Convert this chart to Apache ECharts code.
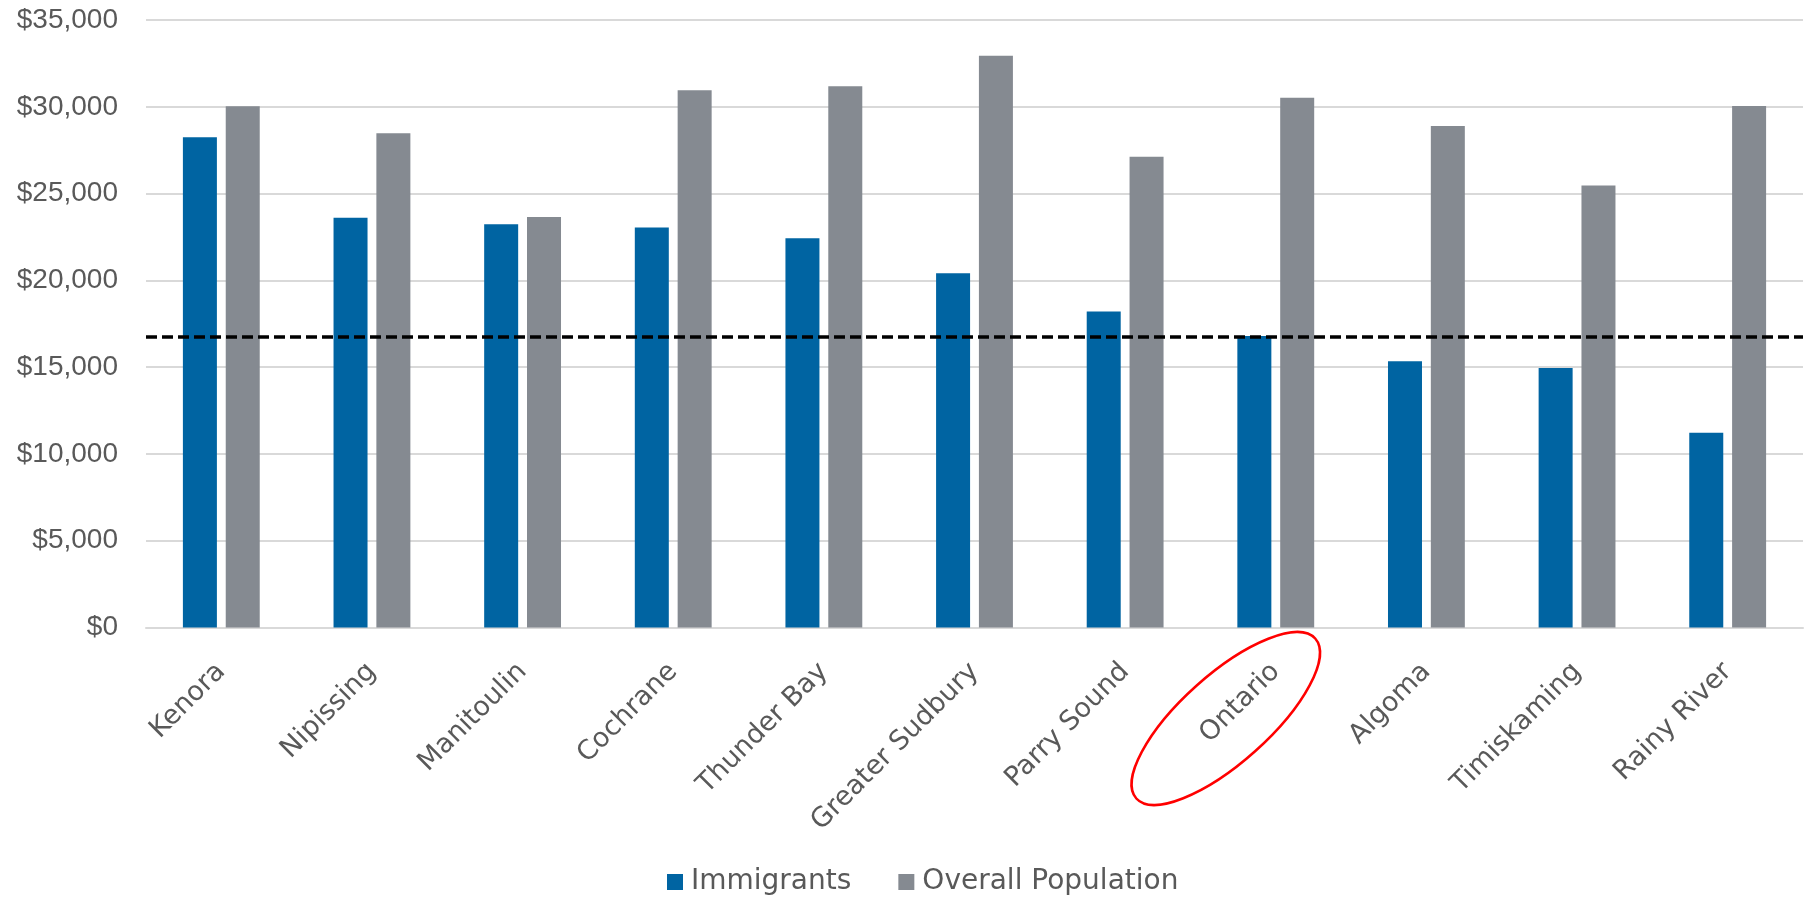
<!DOCTYPE html>
<html>
<head>
<meta charset="utf-8">
<script src="https://cdn.jsdelivr.net/npm/echarts@6/dist/echarts.min.js"></script>
<style>html,body{margin:0;padding:0;background:#fff}#c{width:1809px;height:897px}</style>
</head>
<body>
<div id="c"></div>
<script>
const categories = ['Kenora','Nipissing','Manitoulin','Cochrane','Thunder Bay','Greater Sudbury','Parry Sound','Ontario','Algoma','Timiskaming','Rainy River'];
const immigrants = [28250, 23600, 23230, 23040, 22420, 20410, 18200, 16800, 15340, 14950, 11220];
const overallPopulation = [30030, 28480, 23650, 30950, 31180, 32940, 27120, 30520, 28890, 25460, 30040];
const referenceLine = 16750;
const highlightedCategory = 'Ontario';
const yTicks = { min: 0, max: 35000, interval: 5000 };

const chart = echarts.init(document.getElementById('c'), null, { renderer: 'canvas' });
const textColor = '#595959';
chart.setOption({
  animation: false,
  backgroundColor: '#ffffff',
  grid: { left: 146, right: 6, top: 20, bottom: 269.5, containLabel: false },
  legend: {
    bottom: -4,
    left: 662,
    itemWidth: 16,
    itemHeight: 16,
    itemGap: 47,
    icon: 'rect',
    textStyle: { color: textColor, fontSize: 28, fontFamily: 'DejaVu Sans', padding: [0, 0, 0, 3] },
    data: ['Immigrants', 'Overall Population']
  },
  xAxis: {
    type: 'category',
    data: categories,
    axisLine: { show: true, lineStyle: { color: '#d9d9d9', width: 2 } },
    axisTick: { show: false },
    axisLabel: { rotate: 45, margin: 40, color: textColor, fontSize: 27, fontFamily: 'DejaVu Sans', interval: 0 }
  },
  yAxis: {
    type: 'value',
    min: yTicks.min, max: yTicks.max, interval: yTicks.interval,
    axisLine: { show: false },
    axisTick: { show: false },
    splitLine: { lineStyle: { color: '#d9d9d9', width: 2 } },
    axisLabel: {
      margin: 28, color: textColor, fontSize: 28, fontFamily: 'Liberation Sans',
      formatter: v => '$' + v.toLocaleString('en-US')
    }
  },
  series: [
    {
      name: 'Immigrants', type: 'bar', data: immigrants,
      barWidth: 34, barGap: '26%',
      itemStyle: { color: '#0064A2' },
      markLine: {
        silent: true, symbol: 'none',
        label: { show: false },
        lineStyle: { color: '#000000', width: 3.5, type: [11, 5] },
        data: [{ yAxis: referenceLine }]
      },
      z: 2
    },
    {
      name: 'Overall Population', type: 'bar', data: overallPopulation,
      barWidth: 34,
      itemStyle: { color: '#858A91' },
      z: 2
    }
  ]
});

// Red ellipse annotation around the highlighted category label, anchored to the axis position
const px = chart.convertToPixel({ xAxisIndex: 0 }, highlightedCategory);
const py = chart.convertToPixel({ yAxisIndex: 0 }, 0);
chart.setOption({
  graphic: [{
    type: 'ellipse',
    x: px - 50,
    y: py + 91,
    rotation: 41.8 * Math.PI / 180,
    shape: { cx: 0, cy: 0, rx: 120, ry: 44 },
    style: { fill: 'none', stroke: '#FF0000', lineWidth: 2.5 },
    silent: true,
    z: 100
  }]
});
</script>
</body>
</html>
